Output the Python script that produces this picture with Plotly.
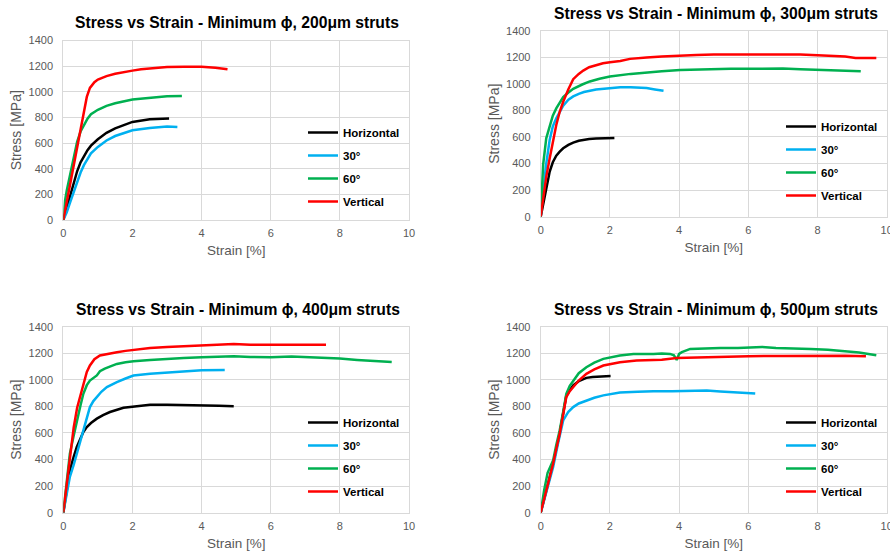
import plotly.graph_objects as go

# ---------------- DATA ----------------
series_names = ["Horizontal", "30°", "60°", "Vertical"]
titles = [
    "Stress vs Strain - Minimum ϕ, 200μm struts",
    "Stress vs Strain - Minimum ϕ, 300μm struts",
    "Stress vs Strain - Minimum ϕ, 400μm struts",
    "Stress vs Strain - Minimum ϕ, 500μm struts",
]
x_ticks = [0, 2, 4, 6, 8, 10]
y_ticks = [0, 200, 400, 600, 800, 1000, 1200, 1400]

# 200 um
s200_h_x = [0, 0.1, 0.2, 0.3, 0.4, 0.5, 0.6, 0.7, 0.8, 1.0, 1.25, 1.5, 2.0, 2.5, 3.06]
s200_h_y = [0, 100, 200, 290, 380, 450, 500, 545, 580, 630, 680, 715, 765, 786, 792]
s200_30_x = [0, 0.1, 0.2, 0.3, 0.4, 0.5, 0.6, 0.7, 0.8, 1.0, 1.25, 1.5, 2.0, 2.5, 3.0, 3.3]
s200_30_y = [0, 60, 140, 220, 300, 370, 430, 480, 520, 570, 620, 655, 700, 718, 730, 726]
s200_60_x = [0, 0.05, 0.1, 0.2, 0.3, 0.4, 0.5, 0.6, 0.7, 0.8, 1.0, 1.25, 1.5, 2.0, 2.5, 3.0, 3.43]
s200_60_y = [0, 150, 230, 360, 490, 610, 690, 745, 790, 825, 860, 890, 910, 940, 955, 965, 968]
s200_v_x = [0, 0.1, 0.2, 0.3, 0.4, 0.5, 0.6, 0.68, 0.77, 0.9, 1.0, 1.25, 1.5, 1.75, 2.0, 2.25, 2.5, 3.0, 3.5, 4.0, 4.4, 4.75]
s200_v_y = [0, 140, 280, 420, 560, 690, 830, 960, 1030, 1075, 1095, 1122, 1140, 1155, 1165, 1175, 1182, 1193, 1195, 1195, 1188, 1175]

# 300 um
s300_h_x = [0, 0.07, 0.15, 0.26, 0.35, 0.45, 0.55, 0.65, 0.8, 0.94, 1.1, 1.25, 1.4, 1.6, 1.85, 2.13]
s300_h_y = [0, 90, 220, 340, 410, 460, 490, 515, 540, 558, 572, 580, 585, 588, 590, 593]
s300_30_x = [0, 0.07, 0.15, 0.26, 0.35, 0.45, 0.55, 0.65, 0.8, 0.94, 1.1, 1.25, 1.6, 2.0, 2.3, 2.6, 3.06, 3.3, 3.55]
s300_30_y = [0, 180, 380, 580, 680, 740, 790, 835, 880, 905, 925, 938, 958, 970, 975, 975, 968, 958, 948]
s300_60_x = [0, 0.07, 0.16, 0.26, 0.35, 0.45, 0.55, 0.65, 0.8, 0.94, 1.2, 1.42, 1.7, 2.0, 2.6, 3.06, 3.5, 4.03, 5.0, 5.5, 6.0, 6.6, 7.0, 7.5, 8.0, 8.5, 9.25]
s300_60_y = [0, 390, 590, 690, 760, 815, 860, 900, 935, 963, 995, 1018, 1038, 1055, 1075, 1088, 1095, 1105, 1112, 1113, 1113, 1117, 1115, 1110, 1105, 1100, 1095]
s300_v_x = [0, 0.07, 0.16, 0.26, 0.35, 0.45, 0.55, 0.65, 0.8, 0.94, 1.1, 1.23, 1.4, 1.61, 1.8, 2.0, 2.3, 2.58, 2.8, 3.06, 3.5, 4.03, 4.5, 5.0, 5.48, 6.0, 6.5, 6.8, 7.5, 8.0, 8.5, 8.8, 9.1, 9.7]
s300_v_y = [0, 140, 300, 440, 560, 690, 790, 865, 960, 1035, 1075, 1100, 1125, 1143, 1155, 1163, 1172, 1188, 1195, 1198, 1205, 1213, 1218, 1220, 1220, 1222, 1222, 1225, 1220, 1215, 1210, 1205, 1195, 1195]

# 400 um
s400_h_x = [0, 0.1, 0.19, 0.3, 0.39, 0.5, 0.58, 0.68, 0.8, 0.97, 1.15, 1.35, 1.55, 1.74, 2.0, 2.25, 2.51, 3.0, 3.48, 4.0, 4.5, 4.93]
s400_h_y = [0, 170, 320, 420, 495, 560, 608, 645, 675, 708, 735, 758, 775, 790, 798, 806, 813, 812, 808, 808, 805, 802]
s400_30_x = [0, 0.1, 0.19, 0.3, 0.39, 0.5, 0.58, 0.68, 0.77, 0.87, 0.97, 1.1, 1.26, 1.4, 1.55, 1.8, 2.03, 2.51, 3.0, 3.48, 4.0, 4.67]
s400_30_y = [0, 140, 270, 360, 445, 540, 620, 720, 795, 840, 870, 910, 945, 965, 983, 1010, 1033, 1045, 1055, 1065, 1072, 1075]
s400_60_x = [0, 0.1, 0.19, 0.3, 0.39, 0.5, 0.58, 0.68, 0.77, 0.87, 0.97, 1.06, 1.2, 1.4, 1.55, 1.8, 2.03, 2.51, 3.0, 3.48, 4.0, 4.44, 4.93, 5.41, 6.0, 6.6, 7.0, 7.5, 8.0, 8.5, 9.0, 9.5]
s400_60_y = [0, 240, 445, 580, 695, 810, 895, 960, 995, 1015, 1033, 1065, 1085, 1105, 1120, 1132, 1140, 1150, 1160, 1165, 1170, 1175, 1178, 1172, 1170, 1176, 1172, 1168, 1160, 1150, 1145, 1135]
s400_v_x = [0, 0.1, 0.2, 0.3, 0.4, 0.5, 0.58, 0.68, 0.77, 0.9, 1.06, 1.3, 1.55, 1.8, 2.03, 2.51, 3.0, 3.48, 4.0, 4.44, 4.93, 5.41, 6.0, 6.5, 7.0, 7.6]
s400_v_y = [0, 230, 450, 640, 790, 890, 970, 1060, 1108, 1155, 1183, 1198, 1208, 1218, 1225, 1240, 1248, 1253, 1258, 1260, 1270, 1265, 1265, 1265, 1270, 1265]

# 500 um
s500_h_x = [0, 0.2, 0.36, 0.55, 0.74, 0.85, 0.94, 1.1, 1.32, 1.5, 1.71, 2.02]
s500_h_y = [0, 200, 370, 600, 880, 925, 958, 990, 1015, 1022, 1025, 1028]
s500_30_x = [0, 0.1, 0.2, 0.36, 0.5, 0.65, 0.8, 0.94, 1.1, 1.32, 1.55, 1.81, 2.05, 2.29, 2.8, 3.26, 3.8, 4.22, 4.8, 5.19, 5.7, 6.2]
s500_30_y = [0, 100, 200, 345, 520, 695, 760, 795, 822, 845, 865, 883, 895, 905, 910, 915, 915, 915, 920, 913, 905, 897]
s500_60_x = [0, 0.1, 0.2, 0.36, 0.45, 0.55, 0.65, 0.74, 0.84, 0.94, 1.1, 1.32, 1.55, 1.81, 2.05, 2.29, 2.68, 3.0, 3.26, 3.5, 3.74, 3.85, 3.93, 4.0, 4.08, 4.32, 4.8, 5.19, 5.7, 6.0, 6.4, 6.8, 7.3, 7.8, 8.3, 8.8, 9.2, 9.7]
s500_60_y = [0, 170, 300, 395, 510, 620, 760, 895, 955, 995, 1050, 1095, 1130, 1158, 1170, 1183, 1195, 1192, 1195, 1198, 1195, 1185, 1150, 1195, 1208, 1233, 1238, 1240, 1240, 1242, 1248, 1240, 1238, 1232, 1226, 1215, 1205, 1185]
s500_v_x = [0, 0.1, 0.2, 0.36, 0.45, 0.55, 0.65, 0.74, 0.84, 0.94, 1.1, 1.32, 1.55, 1.81, 2.05, 2.29, 2.77, 3.26, 3.5, 3.93, 4.5, 5.19, 6.0, 7.0, 7.5, 8.0, 8.3, 8.8, 9.4]
s500_v_y = [0, 100, 200, 370, 480, 595, 740, 870, 915, 945, 995, 1045, 1078, 1108, 1118, 1133, 1145, 1150, 1152, 1165, 1170, 1175, 1178, 1180, 1180, 1183, 1185, 1182, 1178]

panels = [
    [(s200_h_x, s200_h_y), (s200_30_x, s200_30_y), (s200_60_x, s200_60_y), (s200_v_x, s200_v_y)],
    [(s300_h_x, s300_h_y), (s300_30_x, s300_30_y), (s300_60_x, s300_60_y), (s300_v_x, s300_v_y)],
    [(s400_h_x, s400_h_y), (s400_30_x, s400_30_y), (s400_60_x, s400_60_y), (s400_v_x, s400_v_y)],
    [(s500_h_x, s500_h_y), (s500_30_x, s500_30_y), (s500_60_x, s500_60_y), (s500_v_x, s500_v_y)],
]

# ---------------- STYLE / LAYOUT ----------------
W, H = 890, 552
colors = ["#000000", "#00B0F0", "#00B050", "#FF0000"]
FONT = "Arial, 'Liberation Sans', sans-serif"

# plot areas in pixels: (left, right, top, bottom)
areas = [(63.3, 409, 40.5, 220), (540.7, 886.7, 30.7, 216.7),
         (63.3, 409, 326.7, 512.7), (540.7, 886.7, 326.7, 512.7)]
title_pos = [(237, 23), (716, 13.5), (238, 309.5), (716, 309.5)]
legend_pos = [(303, 118), (781, 112), (303, 408), (781, 408)]

fig = go.Figure()
for p, data in enumerate(panels):
    suffix = "" if p == 0 else str(p + 1)
    for s, (xs, ys) in enumerate(data):
        fig.add_trace(go.Scatter(
            x=xs, y=ys, mode="lines", name=series_names[s],
            line=dict(color=colors[s], width=2.5),
            xaxis="x" + suffix, yaxis="y" + suffix,
            legend="legend" + suffix,
            legendgroup=f"p{p}s{s}",
        ))

layout = dict(
    width=W, height=H, margin=dict(l=0, r=0, t=0, b=0, autoexpand=False),
    paper_bgcolor="white", plot_bgcolor="white",
    font=dict(family=FONT, color="#595959"),
    annotations=[],
)
for p, (l, r, t, b) in enumerate(areas):
    suffix = "" if p == 0 else str(p + 1)
    xa = dict(
        domain=[l / W, r / W], range=[0, 10], tickvals=x_ticks,
        showgrid=True, gridcolor="#D9D9D9", gridwidth=1, zeroline=False,
        showline=True, linecolor="#D9D9D9", mirror=True,
        tickfont=dict(size=11, color="#595959"), ticks="",
        ticklabelstandoff=3, automargin=False, ticklabeloverflow="allow",
        title=dict(text="Strain [%]", font=dict(size=13.5, color="#595959"), standoff=7),
        anchor="y" + suffix, fixedrange=True,
    )
    ya = dict(
        domain=[1 - b / H, 1 - t / H], range=[0, 1400], tickvals=y_ticks,
        showgrid=True, gridcolor="#D9D9D9", gridwidth=1, zeroline=False,
        showline=True, linecolor="#D9D9D9", mirror=True,
        tickfont=dict(size=11, color="#595959"), ticks="",
        ticklabelstandoff=7, automargin=False,
        title=dict(text="Stress [MPa]", font=dict(size=14, color="#595959"), standoff=3),
        anchor="x" + suffix, fixedrange=True,
    )
    layout["xaxis" + suffix] = xa
    layout["yaxis" + suffix] = ya
    lx, ly = legend_pos[p]
    layout["legend" + suffix] = dict(
        x=lx / W, y=1 - ly / H, xanchor="left", yanchor="top",
        bgcolor="rgba(0,0,0,0)", borderwidth=0,
        font=dict(family=FONT, size=11.5, color="#000000", weight="bold"),
        itemwidth=30, tracegroupgap=4, traceorder="grouped",
    )
    tx, ty = title_pos[p]
    layout["annotations"].append(dict(
        text="<b>" + titles[p] + "</b>", x=tx / W, y=1 - ty / H,
        xref="paper", yref="paper", xanchor="center", yanchor="middle",
        showarrow=False, font=dict(family=FONT, size=15.7, color="#000000"),
    ))

fig.update_layout(**layout)
fig.write_html("out.html", post_script="document.body.style.margin='0px';",
               config={"displayModeBar": False})
